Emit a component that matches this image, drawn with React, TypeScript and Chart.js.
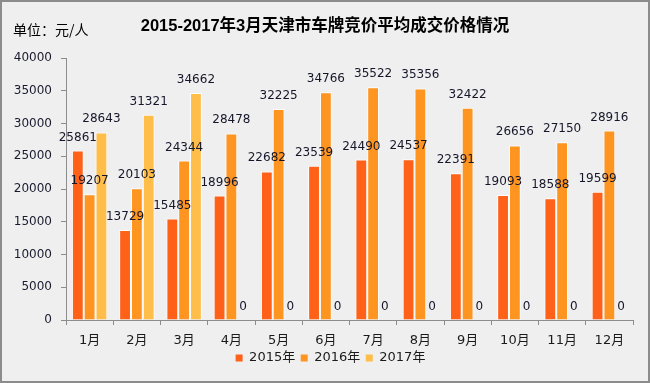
import React, { useEffect, useRef } from "react";
import { Chart, registerables } from "chart.js";

Chart.register(...registerables);

const TITLE = "2015-2017年3月天津市车牌竞价平均成交价格情况";
const UNIT_LABEL = "单位：元/人";
const months = ["1月", "2月", "3月", "4月", "5月", "6月", "7月", "8月", "9月", "10月", "11月", "12月"];
const seriesNames = ["2015年", "2016年", "2017年"];
const values2015 = [25861, 13729, 15485, 18996, 22682, 23539, 24490, 24537, 22391, 19093, 18588, 19599];
const values2016 = [19207, 20103, 24344, 28478, 32225, 34766, 35522, 35356, 32422, 26656, 27150, 28916];
const values2017 = [28643, 31321, 34662, 0, 0, 0, 0, 0, 0, 0, 0, 0];
const seriesColors = ["#FF6118", "#FF9521", "#FFBD4A"];
const yMax = 40000;
const yStep = 5000;

const FONT = '"DejaVu Sans", "Noto Sans CJK SC", sans-serif';

const decorPlugin = {
  id: "decor",
  afterLayout(chart: any) {
    const lg = chart.legend;
    if (lg) {
      lg.left += 14;
      lg.right += 14;
    }
  },
  afterDraw(chart: any) {
    const ctx = chart.ctx;
    ctx.save();
    ctx.fillStyle = "#000";
    ctx.textBaseline = "middle";
    ctx.textAlign = "center";
    ctx.font = 'bold 16.5px "Liberation Sans", "Noto Sans CJK SC", sans-serif';
    ctx.fillText(TITLE, 325, 26);
    ctx.textAlign = "left";
    ctx.font = '14px "Noto Sans CJK SC", sans-serif';
    ctx.fillText(UNIT_LABEL, 13, 30);
    ctx.restore();
  },
};

const valueLabelPlugin = {
  id: "valueLabels",
  afterDatasetsDraw(chart: any) {
    const ctx = chart.ctx;
    ctx.save();
    ctx.font = "12px " + FONT;
    ctx.fillStyle = "#16162a";
    ctx.textAlign = "center";
    ctx.textBaseline = "alphabetic";
    chart.data.datasets.forEach((ds: any, di: number) => {
      const meta = chart.getDatasetMeta(di);
      meta.data.forEach((el: any, i: number) => {
        ctx.fillText(String(ds.data[i]), el.x, el.y - 10);
      });
    });
    ctx.restore();
  },
};

export default function App() {
  const ref = useRef<HTMLCanvasElement | null>(null);

  useEffect(() => {
    if (!ref.current) return;
    const seriesValues = [values2015, values2016, values2017];
    const chart = new Chart(ref.current, {
      type: "bar",
      data: {
        labels: months,
        datasets: seriesNames.map((name, i) => ({
          label: name,
          data: seriesValues[i],
          backgroundColor: seriesColors[i],
          borderColor: "#ffffff",
          borderWidth: 1,
          categoryPercentage: 0.75,
          barPercentage: 1.0,
        })),
      },
      options: {
        responsive: false,
        animation: false,
        layout: { padding: { top: 58, left: 0, right: 17, bottom: 8.5 } },
        plugins: {
          title: { display: false },
          tooltip: { enabled: false },
          legend: {
            position: "bottom",
            labels: {
              font: { size: 13, family: FONT },
              color: "#1a1a1a",
              boxWidth: 7,
              boxHeight: 7,
              padding: 5.5,
              generateLabels: (c: any) =>
                Chart.defaults.plugins.legend.labels.generateLabels(c).map((l: any) => ({ ...l, lineWidth: 0 })),
            },
          },
        },
        scales: {
          x: {
            ticks: { font: { size: 13, family: FONT }, color: "#1a1a1a", padding: 8 },
            grid: { display: true, drawOnChartArea: false, drawTicks: true, tickLength: 5, color: "#8c8c8c", offset: true },
            border: { display: true, color: "#8c8c8c", width: 1 },
            afterFit: (s: any) => {
              s.height = 26;
            },
          },
          y: {
            min: 0,
            max: yMax,
            ticks: {
              stepSize: yStep,
              font: { size: 12, family: FONT },
              color: "#1a1a2e",
              padding: 9,
              callback: (v: any) => String(v),
            },
            grid: { display: true, drawOnChartArea: false, drawTicks: true, tickLength: 5, color: "#8c8c8c" },
            border: { display: true, color: "#8c8c8c", width: 1 },
            afterFit: (s: any) => {
              s.width = 66;
            },
          },
        },
      },
      plugins: [decorPlugin, valueLabelPlugin],
    });
    return () => chart.destroy();
  }, []);

  return (
    <div
      style={{
        position: "absolute",
        left: 0,
        top: 0,
        width: 650,
        height: 383,
        background: "#EFEFEF",
        boxShadow: "inset 0 0 0 2px #8c8c8c",
      }}
    >
      <canvas ref={ref} width={650} height={383} style={{ width: 650, height: 383, display: "block" }} />
    </div>
  );
}
